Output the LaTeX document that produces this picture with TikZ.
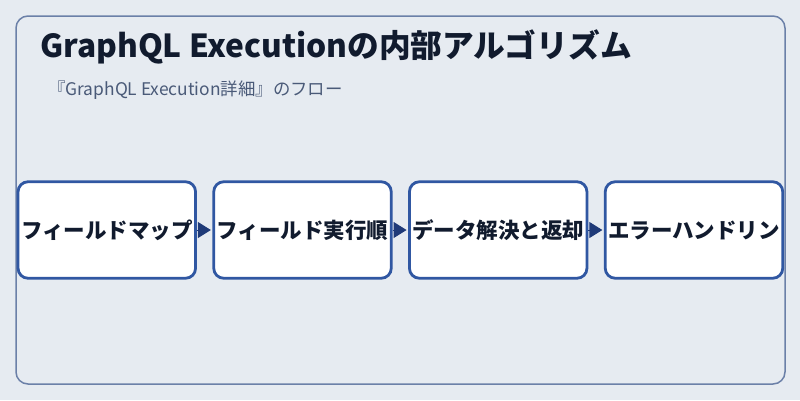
\documentclass[tikz,border=0pt]{standalone}
\usepackage{fontspec}
\setmainfont{Noto Sans CJK JP}
\usetikzlibrary{arrows.meta}
\definecolor{bg}{HTML}{E6EBF1}
\definecolor{frame}{HTML}{6B80A8}
\definecolor{boxline}{HTML}{3057A2}
\definecolor{ink}{HTML}{111B2E}
\definecolor{subink}{HTML}{4A5A78}
\definecolor{arrowc}{HTML}{1F3A78}
\tikzset{
  stepbox/.style={draw=boxline, line width=2.8pt, fill=white, rounded corners=10pt,
    minimum width=177.5pt, minimum height=96.5pt, inner sep=0pt, text=ink,
    font=\fontsize{21.5pt}{24pt}\selectfont\bfseries},
  flow/.style={draw=arrowc, line width=1pt, -{Triangle[length=13pt,width=16pt]}, arrowc, shorten >=1.5pt}
}
\begin{document}
\begin{tikzpicture}[x=1pt,y=-1pt]
\fill[bg] (0,0) rectangle (800,400);
\useasboundingbox (0,0) rectangle (800,400);
\draw[frame, line width=1.5pt, rounded corners=12pt] (16,16) rectangle (785,384);
\node[anchor=base west, inner sep=0pt, text=ink, font=\fontsize{31.7pt}{36pt}\selectfont\bfseries] (title) at (40,57) {GraphQL Executionの内部アルゴリズム};
\node[anchor=base west, inner sep=0pt, text=subink, font=\fontsize{17.4pt}{21pt}\selectfont] (sub) at (48,95) {『GraphQL Execution詳細』のフロー};
\node[stepbox] (b1) at (106.8,230) {フィールドマップ};
\node[stepbox] (b2) at (302.5,230) {フィールド実行順};
\node[stepbox] (b3) at (498.2,230) {データ解決と返却};
\node[stepbox] (b4) at (694,230) {エラーハンドリン};
\draw[flow] (b1) -- (b2);
\draw[flow] (b2) -- (b3);
\draw[flow] (b3) -- (b4);
\end{tikzpicture}
\end{document}
